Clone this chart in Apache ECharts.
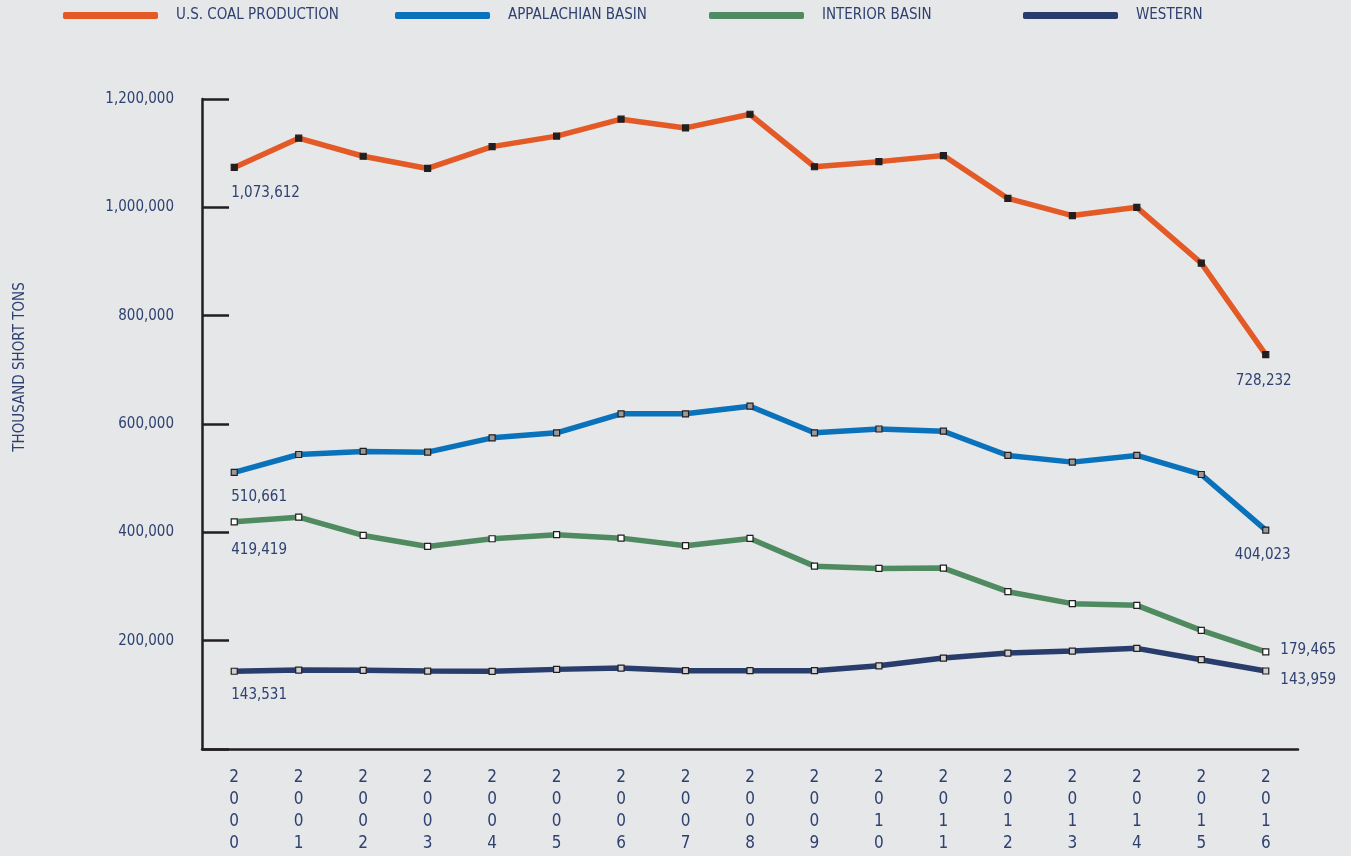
<!DOCTYPE html>
<html>
<head>
<meta charset="utf-8">
<script src="https://cdn.jsdelivr.net/npm/echarts@6/dist/echarts.min.js"></script>
<style>
  html, body { margin: 0; padding: 0; background: #e6e7e9; }
  #chart { width: 1351px; height: 856px; }
</style>
</head>
<body>
<div id="chart"></div>
<script>
const years = ['2000','2001','2002','2003','2004','2005','2006','2007','2008','2009','2010','2011','2012','2013','2014','2015','2016']
const usCoal = [1073612, 1127689, 1094283, 1071753, 1112099, 1131498, 1162750, 1146635, 1171809, 1074923, 1084368, 1095628, 1016458, 984842, 1000049, 896941, 728232]
const appalachian = [510661, 543700, 549300, 548000, 574500, 583800, 618800, 618800, 632900, 583800, 590800, 586700, 541900, 529600, 541900, 506800, 404023]
const interior = [419419, 428000, 394300, 374000, 388200, 395600, 389300, 375300, 388700, 337600, 333400, 334000, 290400, 268300, 265200, 219000, 179465]
const western = [143531, 145800, 145200, 143900, 143400, 147000, 149400, 144600, 144600, 144600, 153500, 167900, 177100, 180800, 185800, 164900, 143959]
const yTicks = [0, 200000, 400000, 600000, 800000, 1000000, 1200000]

const font = '"Liberation Sans Narrow", "DejaVu Sans Condensed", sans-serif'
const textColor = '#2f4170'
const axisColor = '#231f20'
const fmt = (v) => v.toLocaleString('en-US')

const names = ['U.S. COAL PRODUCTION', 'APPALACHIAN BASIN', 'INTERIOR BASIN', 'WESTERN']
const colors = ['#e35a26', '#0a72bb', '#4f8a60', '#283d6b']
const fills = ['#231f20', '#9a9a9a', '#ffffff', '#d0d0d0']
const legendLeft = [58, 390, 704, 1018]

const labelText = { color: textColor, fontFamily: font, fontSize: 15 }
const firstLabels = [
  { position: 'bottom', distance: 15, align: 'left', offset: [-3, 0] },
  { position: 'bottom', distance: 14, align: 'left', offset: [-3, 0] },
  { position: 'bottom', distance: 17, align: 'left', offset: [-3, 0] },
  { position: 'bottom', distance: 13, align: 'left', offset: [-3, 0] },
]
const lastLabels = [
  { position: 'bottom', distance: 15, offset: [-2, 0] },
  { position: 'bottom', distance: 14, offset: [-3, 0] },
  { position: 'right', distance: 11, offset: [0, -2] },
  { position: 'right', distance: 11, offset: [0, 9] },
]

function buildData(arr, idx) {
  return arr.map(function (v, i) {
    if (i === 0) return { value: v, label: Object.assign({ show: true, formatter: fmt(v) }, labelText, firstLabels[idx]) }
    if (i === arr.length - 1) return { value: v, label: Object.assign({ show: true, formatter: fmt(v) }, labelText, lastLabels[idx]) }
    return v
  })
}

const allSeries = [usCoal, appalachian, interior, western]

var myChart = echarts.init(document.getElementById('chart'))
var option = {
  backgroundColor: '#e6e7e9',
  animation: false,
  textStyle: { fontFamily: font },
  legend: names.map(function (n, i) {
    return {
      left: legendLeft[i],
      top: 3,
      icon: 'roundRect',
      itemWidth: 95,
      itemHeight: 7,
      data: [{ name: n, itemStyle: { color: colors[i], borderWidth: 0 } }],
      textStyle: { color: textColor, fontFamily: font, fontSize: 15, padding: [0, 0, 0, 13] },
    }
  }),
  grid: { left: 202, right: 53, top: 99, bottom: 107, containLabel: false },
  xAxis: {
    type: 'category',
    data: years,
    boundaryGap: true,
    axisLine: { lineStyle: { color: axisColor, width: 2.5 } },
    axisTick: { inside: true, length: 13, lineStyle: { color: axisColor, width: 2.5 } },
    axisLabel: {
      interval: 0,
      margin: 18,
      color: textColor,
      fontFamily: font,
      fontSize: 17,
      lineHeight: 22,
      formatter: function (v) { return v.split('').join('\n') },
    },
  },
  yAxis: {
    type: 'value',
    min: yTicks[0],
    max: yTicks[yTicks.length - 1],
    interval: yTicks[1] - yTicks[0],
    splitLine: { show: false },
    axisLine: { show: true, lineStyle: { color: axisColor, width: 2.5 } },
    axisTick: { show: true, inside: true, length: 27, lineStyle: { color: axisColor, width: 2.5 } },
    axisLabel: {
      margin: 28,
      color: textColor,
      fontFamily: font,
      fontSize: 15,
      padding: [8, 0, 0, 0],
      formatter: function (v) { return v === 0 ? '' : fmt(v) },
    },
  },
  graphic: [
    {
      type: 'text',
      x: 20,
      y: 367,
      rotation: Math.PI / 2,
      style: {
        text: 'THOUSAND SHORT TONS',
        fill: textColor,
        font: '15px ' + font,
        align: 'center',
        verticalAlign: 'middle',
      },
    },
  ],
  series: allSeries.map(function (arr, i) {
    return {
      name: names[i],
      type: 'line',
      data: buildData(arr, i),
      symbol: 'rect',
      symbolSize: 6,
      z: 10 - i,
      lineStyle: { color: colors[i], width: 5.5 },
      itemStyle: { color: fills[i], borderColor: axisColor, borderWidth: 1.2 },
      emphasis: { disabled: true },
    }
  }),
}
myChart.setOption(option)
</script>
</body>
</html>
